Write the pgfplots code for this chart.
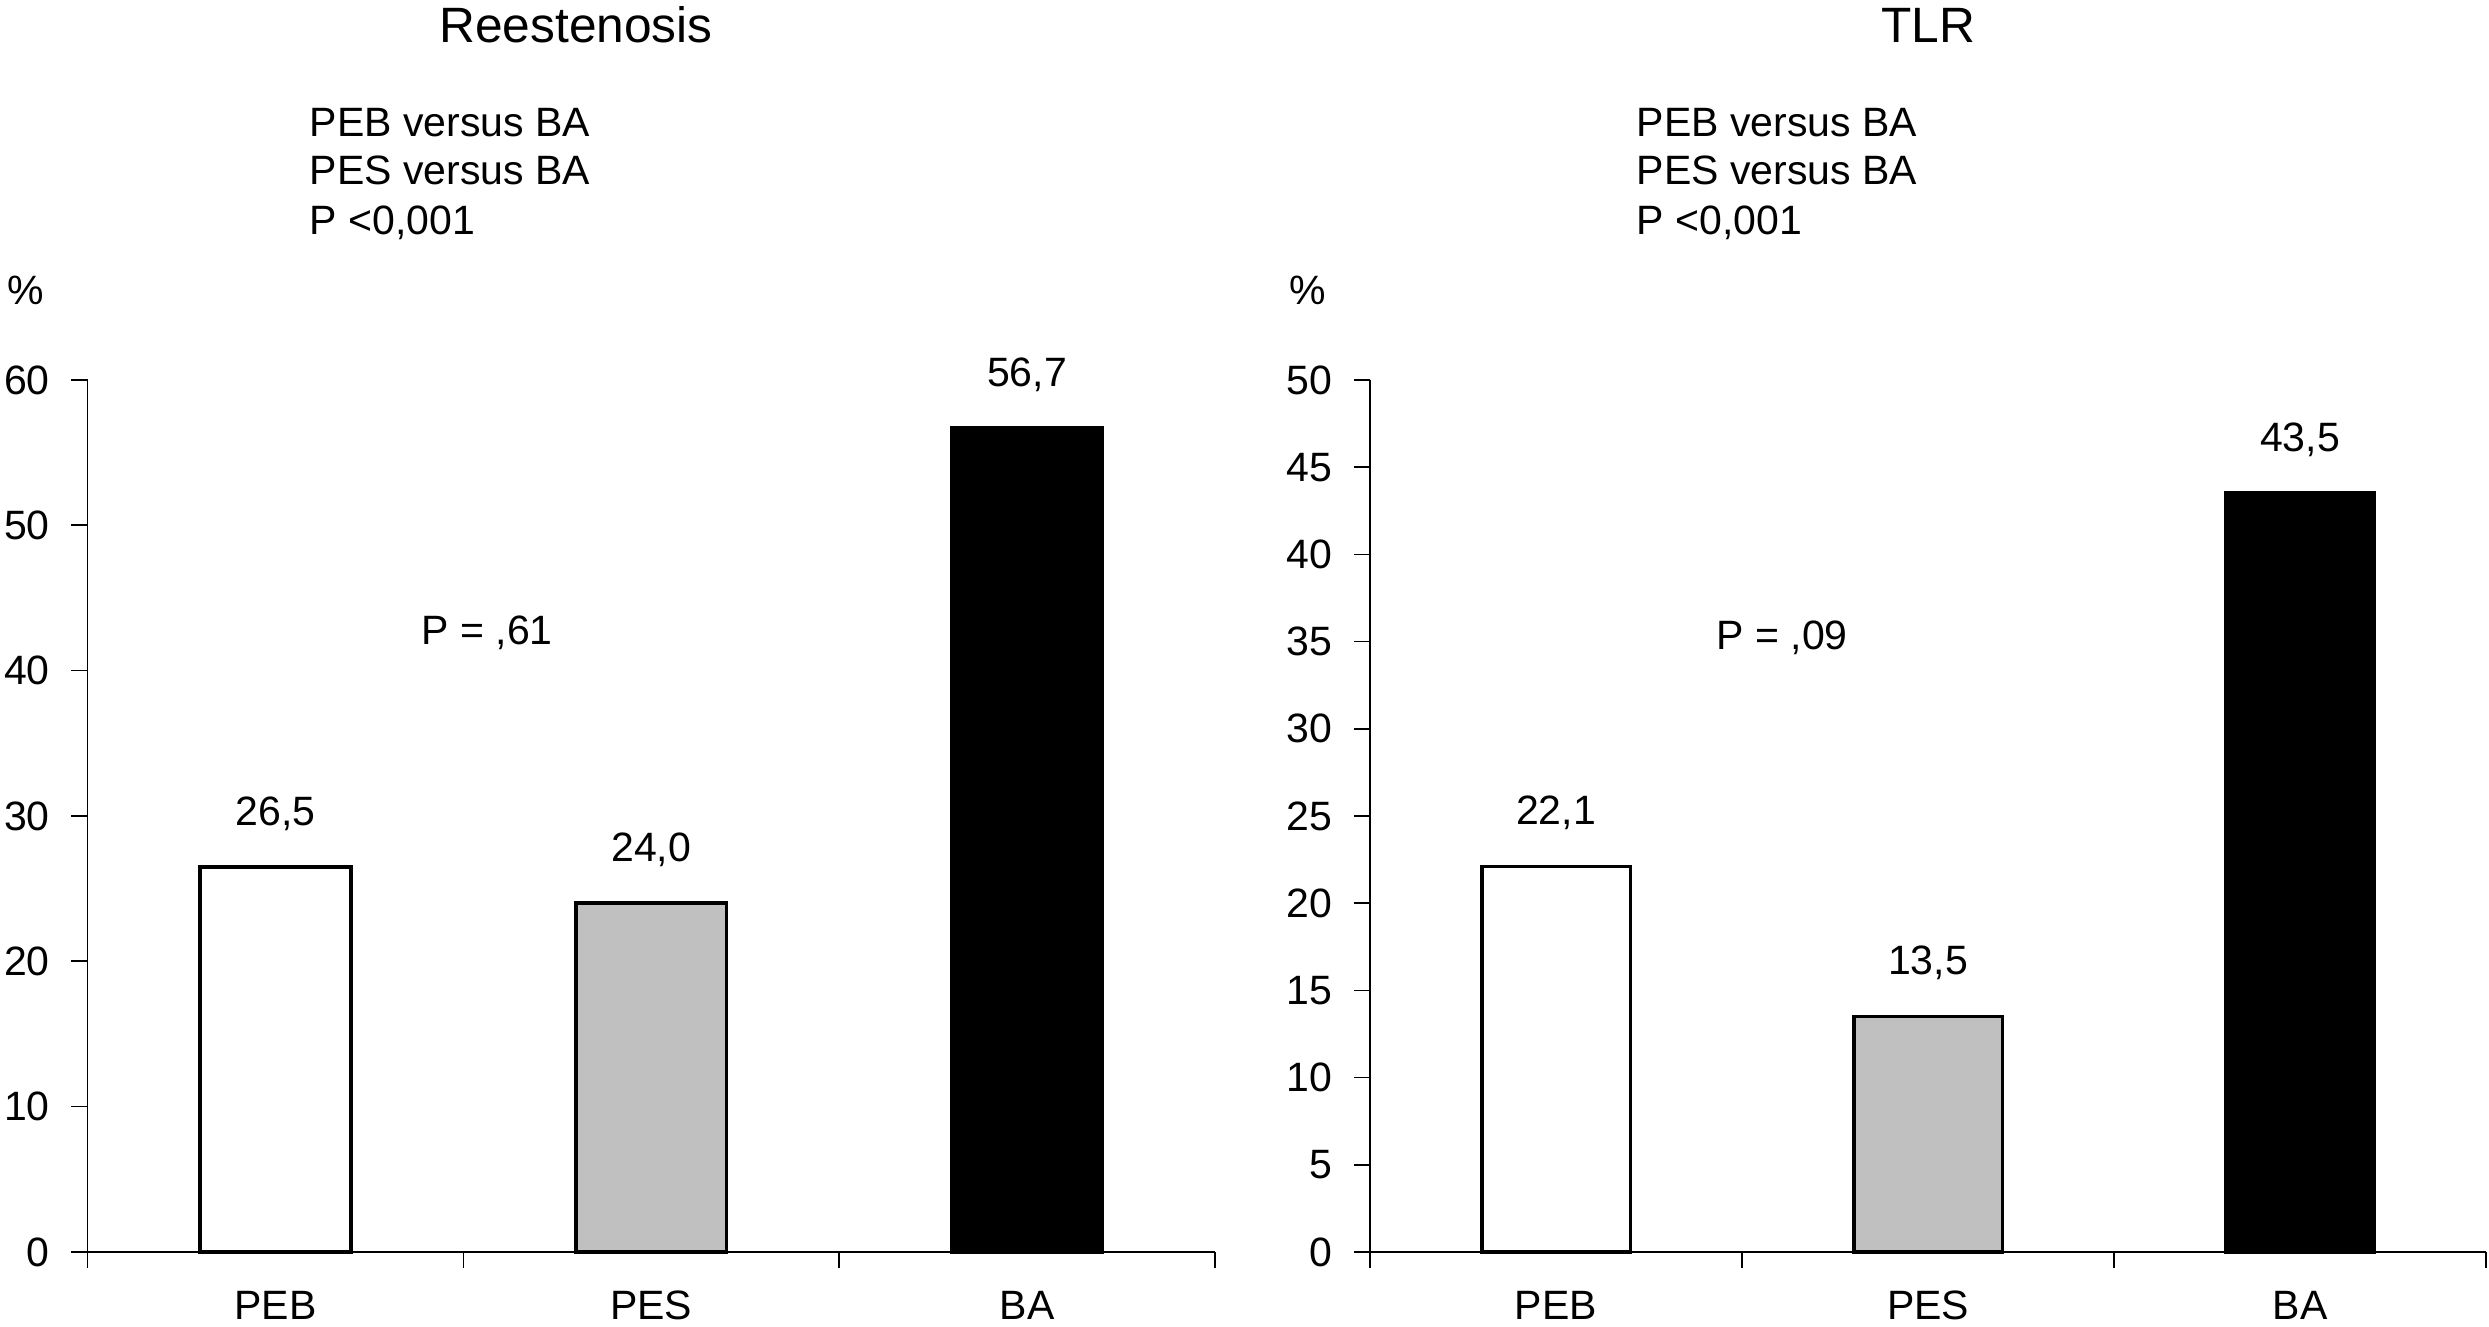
\documentclass[border=0pt]{standalone}
\usepackage{fontspec}
\setmainfont{Liberation Sans}
\usepackage{pgfplots}
\pgfplotsset{compat=1.18}
\definecolor{pesgray}{RGB}{192,192,192}
\newcommand{\fs}{\fontsize{12.3}{14}\selectfont}
\newcommand{\ft}{\fontsize{14.9}{17}\selectfont}
\pgfplotsset{
  mybar/.style={
    scale only axis, anchor=south west,
    axis x line*=bottom, axis y line*=left,
    axis line style={line width=0.5pt,-},
    xmin=0.5, xmax=3.5, ymin=0,
    xtick={0.5,1.5,2.5,3.5}, xticklabels={},
    extra x ticks={1,2,3}, extra x tick labels={PEB,PES,BA},
    extra x tick style={major tick length=0pt},
    tick align=outside,
    major tick length=4.8pt,
    tick style={line width=0.5pt,black},
    ticklabel style={font=\fs},
    /pgf/number format/assume math mode=true,
    xticklabel style={anchor=base, yshift=-20.4pt},
    yticklabel style={xshift=-3pt},
    ybar, bar width=0.4, bar shift=0pt,
    clip=false,
    point meta=explicit symbolic,
    nodes near coords,
    every node near coord/.append style={anchor=base, yshift=12.5pt, font=\fs},
  },
  barstyle/.style={draw=black, line width=1.15pt},
}
\begin{document}
\begin{tikzpicture}
\useasboundingbox (0,0) rectangle (746.7pt,398.1pt);
\begin{axis}[mybar, at={(26.25pt,22.5pt)}, width=338.25pt, height=261.6pt,
  ymax=60, ytick={0,10,...,60}]
  \addplot[barstyle, fill=white] coordinates {(1,26.5) [26,5]};
  \addplot[barstyle, fill=pesgray] coordinates {(2,24.0) [24,0]};
  \addplot[barstyle, fill=black] coordinates {(3,56.7) [56,7]};
\end{axis}
\begin{axis}[mybar, at={(411pt,22.5pt)}, width=334.8pt, height=261.6pt,
  ymax=50, ytick={0,5,...,50}]
  \addplot[barstyle, fill=white] coordinates {(1,22.1) [22,1]};
  \addplot[barstyle, fill=pesgray] coordinates {(2,13.5) [13,5]};
  \addplot[barstyle, fill=black] coordinates {(3,43.5) [43,5]};
\end{axis}
% left panel texts
\node[anchor=base, font=\ft] at (172.8pt,385.2pt) {Reestenosis};
\node[anchor=base west, font=\fs, inner sep=0pt] at (92.7pt,357pt) {PEB versus BA};
\node[anchor=base west, font=\fs, inner sep=0pt] at (92.7pt,342.6pt) {PES versus BA};
\node[anchor=base west, font=\fs, inner sep=0pt] at (92.7pt,327.6pt) {P <0,001};
\node[anchor=base, font=\fs, inner sep=0pt] at (7.8pt,306.6pt) {\%};
\node[anchor=base west, font=\fs, inner sep=0pt] at (126.3pt,204.6pt) {P = ,61};
% right panel texts
\node[anchor=base, font=\ft] at (578.4pt,385.2pt) {TLR};
\node[anchor=base west, font=\fs, inner sep=0pt] at (490.8pt,357pt) {PEB versus BA};
\node[anchor=base west, font=\fs, inner sep=0pt] at (490.8pt,342.6pt) {PES versus BA};
\node[anchor=base west, font=\fs, inner sep=0pt] at (490.8pt,327.6pt) {P <0,001};
\node[anchor=base, font=\fs, inner sep=0pt] at (392.4pt,306.6pt) {\%};
\node[anchor=base west, font=\fs, inner sep=0pt] at (514.8pt,203.1pt) {P = ,09};
\end{tikzpicture}
\end{document}
